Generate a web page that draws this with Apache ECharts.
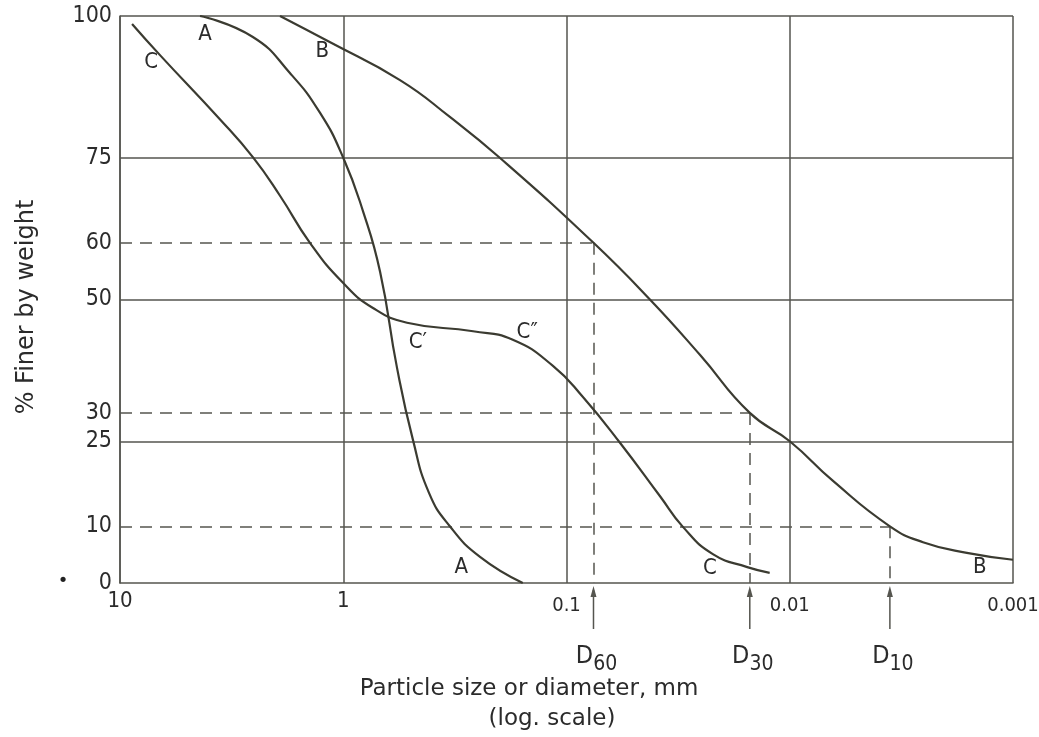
<!DOCTYPE html>
<html>
<head>
<meta charset="utf-8">
<script src="https://cdn.jsdelivr.net/npm/echarts@6/dist/echarts.min.js"></script>
<style>
  html, body { margin: 0; background: #fff; }
  #chart { width: 1039px; height: 737px; }
</style>
</head>
<body>
<div id="chart"></div>
<script>
const NARROW = '"DejaVu Sans Condensed","Liberation Sans Narrow","DejaVu Sans",sans-serif';
const WIDE = '"DejaVu Sans","Noto Sans",sans-serif';
const INK = '#3b3b31';
const GRIDC = '#55554f';
const TEXT = '#2b2b2b';

// [particle size mm, % finer]
const curveA = [[4.38,100],[2.54,96.3],[1.73,89.9],[1.27,82.9],[1.0,75],[0.816,65.6],[0.684,54.9],
  [0.574,37.9],[0.487,25.2],[0.413,15.9],[0.333,10],[0.244,4.6],[0.157,0]];
const curveB = [[1.92,100],[1.15,95.4],[0.557,88.7],[0.333,82.2],[0.199,75],[0.0757,60],[0.0423,50],
  [0.0252,40.2],[0.0151,30],[0.01,25],[0.0064,18],[0.00356,10],[0.00253,7.2],[0.00161,5.3],[0.001,4.1]];
const curveC = [[8.83,98.6],[6.62,93.1],[3.57,81.8],[2.54,75.1],[1.92,68.3],[1.41,60],[1.0,52.9],
  [0.736,48.5],[0.518,45.9],[0.262,44.4],[0.174,42.9],[0.115,38.3],[0.0844,32.8],[0.0575,24.7],
  [0.0381,15.3],[0.0301,9.9],[0.0221,5.1],[0.0155,2.8],[0.0123,1.8]];

// x tick labels, 10^-3 .. 10^1
const xTickLabels = ['0.001', '0.01', '0.1', '1', '10'];
const yTickLabels = [0, 10, 25, 30, 50, 60, 75, 100];
const solidLevels = [25, 50, 75, 100];

const dMarks = [['60', 0.0757, 60], ['30', 0.0151, 30], ['10', 0.00356, 10]];

// curve names in data units: [text, size mm, % finer]
const curveNotes = [['A', 4.16, 96.8], ['B', 1.24, 93.7], ['C', 7.26, 91.9],
  ['A', 0.296, 2.8], ['C', 0.0228, 2.6], ['B', 0.00141, 2.8],
  ['C\u2032', 0.463, 42.5], ['C\u2033', 0.15, 44.3]];

const chart = echarts.init(document.getElementById('chart'));

const dash = { color: GRIDC, width: 1.5, type: [12, 8] };
const guideLines = [
  ...solidLevels.map(v => ({ yAxis: v, lineStyle: { color: GRIDC, width: 1.5, type: 'solid' } })),
  ...dMarks.map(([, d, lvl]) => [{ coord: [10, lvl], lineStyle: dash }, { coord: [d, lvl] }]),
  ...dMarks.map(([, d, lvl]) => [{ coord: [d, lvl], lineStyle: dash }, { coord: [d, 0] }]),
];

const curve = (name, data, extra) => Object.assign({
  name, type: 'line', data, smooth: 0.5, symbol: 'none',
  lineStyle: { color: INK, width: 2.2 }, silent: true, z: 5,
}, extra || {});

chart.setOption({
  animation: false,
  backgroundColor: '#fff',
  grid: { left: 120, right: 26, top: 16, bottom: 154, outerBoundsMode: 'none' },
  xAxis: {
    type: 'log', logBase: 10, min: 0.001, max: 10, inverse: true,
    axisLine: { show: true, lineStyle: { color: GRIDC, width: 1.5 } },
    axisTick: { show: false },
    splitLine: { show: true, lineStyle: { color: GRIDC, width: 1.5 } },
    axisLabel: {
      margin: 7, showMinLabel: true, showMaxLabel: true,
      color: TEXT, fontSize: 20, fontFamily: NARROW,
      formatter: (v) => {
        const t = xTickLabels[Math.round(Math.log10(v)) + 3];
        return v >= 1 ? `{hi|${t}}` : `{lo|${t}}`;
      },
      rich: {
        hi: { color: TEXT, fontSize: 22, fontFamily: NARROW },
        lo: { color: TEXT, fontSize: 20, fontFamily: NARROW, padding: [6, 0, 0, 0] },
      },
    },
  },
  yAxis: {
    type: 'value', min: 0, max: 100, interval: 5,
    axisLine: { show: true, lineStyle: { color: GRIDC, width: 1.5 } },
    axisTick: { show: false },
    splitLine: { show: false },
    axisLabel: {
      margin: 8, color: TEXT, fontSize: 23, fontFamily: NARROW,
      formatter: (v) => (yTickLabels.includes(v) ? String(v) : ''),
    },
  },
  series: [
    curve('A', curveA),
    curve('B', curveB, {
      markLine: { silent: true, symbol: ['none', 'none'], label: { show: false }, data: guideLines },
    }),
    curve('C', curveC),
  ],
});

// annotations placed through the chart's own scales
const toPx = (x, y) => chart.convertToPixel({ gridIndex: 0 }, [x, y]);
const centered = { align: 'center', verticalAlign: 'middle', textAlign: 'center', textVerticalAlign: 'middle' };
const graphics = [];
curveNotes.forEach(([t, x, y]) => {
  const p = toPx(x, y);
  graphics.push({
    type: 'text', x: p[0], y: p[1], silent: true,
    style: Object.assign({ text: t, fill: TEXT, font: `22px ${NARROW}` }, centered),
  });
});
dMarks.forEach(([sub, d]) => {
  const p = toPx(d, 0);
  graphics.push({
    type: 'polyline', silent: true,
    shape: { points: [[p[0], p[1] + 7], [p[0], p[1] + 46]] },
    style: { stroke: GRIDC, lineWidth: 1.5, fill: null },
  });
  graphics.push({
    type: 'polygon', silent: true,
    shape: { points: [[p[0], p[1] + 3], [p[0] - 3, p[1] + 14], [p[0] + 3, p[1] + 14]] },
    style: { fill: GRIDC },
  });
  graphics.push({
    type: 'text', x: p[0] + 3, y: p[1] + 73, silent: true,
    style: Object.assign({
      text: `{d|D}{s|${sub}}`,
      rich: {
        d: { fontSize: 25, fontFamily: NARROW, fill: TEXT, color: TEXT },
        s: { fontSize: 21, fontFamily: NARROW, fill: TEXT, color: TEXT, padding: [18, 0, 0, 0] },
      },
    }, centered),
  });
});
graphics.push(
  { type: 'text', x: 529, y: 689, silent: true,
    style: Object.assign({ text: 'Particle size or diameter, mm', fill: TEXT, font: `23px ${WIDE}` }, centered) },
  { type: 'text', x: 552, y: 719, silent: true,
    style: Object.assign({ text: '(log. scale)', fill: TEXT, font: `23px ${WIDE}` }, centered) },
  { type: 'text', x: 27, y: 307, rotation: Math.PI / 2, silent: true,
    style: Object.assign({ text: '% Finer by weight', fill: TEXT, font: `24px ${WIDE}` }, centered) },
  { type: 'text', x: 63, y: 581, silent: true,
    style: Object.assign({ text: '\u2022', fill: '#222', font: `18px ${WIDE}` }, centered) }
);
chart.setOption({ graphic: graphics });
</script>
</body>
</html>
